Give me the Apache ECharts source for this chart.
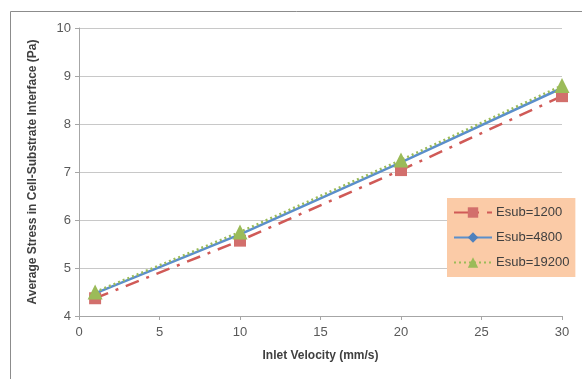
<!DOCTYPE html>
<html>
<head>
<meta charset="utf-8">
<script src="https://cdn.jsdelivr.net/npm/echarts@6/dist/echarts.min.js"></script>
<style>
  html, body { margin: 0; padding: 0; background: #fff; }
  #chart { width: 582px; height: 379px; }
</style>
</head>
<body>
<div id="chart"></div>
<script>
var velocity = [1, 10, 20, 30];
var esub1200 = [4.37, 5.57, 7.04, 8.58];
var esub4800 = [4.47, 5.70, 7.20, 8.75];
var esub19200 = [4.50, 5.75, 7.25, 8.80];
var xTicks = [0, 5, 10, 15, 20, 25, 30];
var yTicks = [4, 5, 6, 7, 8, 9, 10];

function pairs(ys) {
    return velocity.map(function (x, i) { return [x, ys[i]]; });
}

var font = 'Liberation Sans';

var option = {
    backgroundColor: '#fff',
    animation: false,
    graphic: [{
        type: 'rect',
        shape: { x: 10.5, y: 11.5, width: 620, height: 420 },
        style: { fill: 'none', stroke: '#8c8c8c', lineWidth: 1 },
        z: -1
    }],
    grid: { left: 79, right: 20, top: 28, bottom: 63 },
    legend: {
        orient: 'vertical',
        left: 447,
        top: 198,
        backgroundColor: '#fbcba7',
        padding: [8, 6, 8, 6],
        itemGap: 12,
        itemWidth: 38,
        itemHeight: 13,
        textStyle: { fontFamily: font, fontSize: 13, color: '#404040', padding: [0, 0, 0, -1] },
        data: ['Esub=1200', 'Esub=4800', 'Esub=19200']
    },
    xAxis: {
        type: 'value',
        min: 0, max: 30, interval: 5,
        name: 'Inlet Velocity (mm/s)',
        nameLocation: 'middle',
        nameGap: 34,
        nameTextStyle: { fontFamily: font, fontSize: 12, fontWeight: 'bold', color: '#404040' },
        axisLine: { lineStyle: { color: '#a6a6a6' } },
        axisTick: { show: true, length: 4, lineStyle: { color: '#a6a6a6' } },
        axisLabel: { fontFamily: font, fontSize: 13, color: '#595959', margin: 10 },
        splitLine: { show: false }
    },
    yAxis: {
        type: 'value',
        min: 4, max: 10, interval: 1,
        name: 'Average Stress in Cell-Substrate Interface (Pa)',
        nameLocation: 'middle',
        nameGap: 40,
        nameTextStyle: { fontFamily: font, fontSize: 12, fontWeight: 'bold', color: '#404040' },
        axisLine: { show: true, lineStyle: { color: '#a6a6a6' } },
        axisTick: { show: true, length: 4, lineStyle: { color: '#a6a6a6' } },
        axisLabel: { fontFamily: font, fontSize: 13, color: '#595959', margin: 8 },
        splitLine: { lineStyle: { color: '#c8c8c8' } }
    },
    series: [{
        name: 'Esub=1200',
        type: 'line',
        data: pairs(esub1200),
        symbol: 'rect',
        symbolSize: 12,
        itemStyle: { color: '#d26f6c' },
        lineStyle: { color: '#d05a57', width: 2.5, type: [14, 8, 3, 8] },
        z: 2
    }, {
        name: 'Esub=4800',
        type: 'line',
        data: pairs(esub4800),
        symbol: 'diamond',
        symbolSize: 7,
        itemStyle: { color: '#4f81bd' },
        lineStyle: { color: '#5b8fcb', width: 2.5, type: 'solid' },
        z: 3
    }, {
        name: 'Esub=19200',
        type: 'line',
        data: pairs(esub19200),
        symbol: 'triangle',
        symbolSize: 15,
        itemStyle: { color: '#9bbb59' },
        lineStyle: { color: '#9bbb59', width: 2.5, type: [2, 3] },
        z: 4
    }]
};

var chart = echarts.init(document.getElementById('chart'));
chart.setOption(option);
</script>
</body>
</html>
